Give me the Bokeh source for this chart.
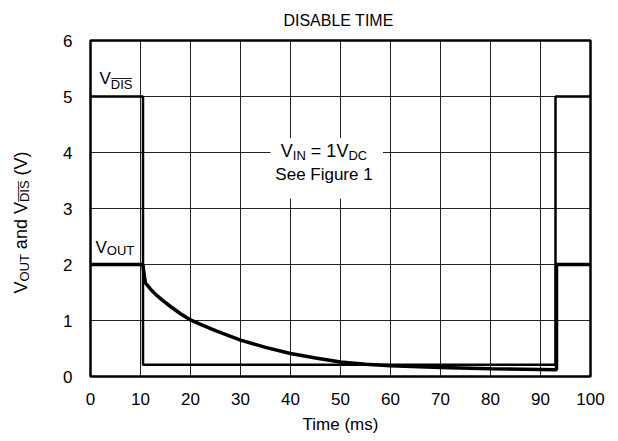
import math
from bokeh.plotting import figure
from bokeh.layouts import row, column
from bokeh.models import Label, BoxAnnotation, FixedTicker
from bokeh.embed import file_html
from bokeh.resources import INLINE

# ---- data ----
t_dis = [0, 10.5, 10.5, 93, 93, 100]
v_dis = [5, 5, 0.21, 0.21, 5, 5]

t_out = [0, 10.5, 10.6, 10.8, 11, 12, 13, 14, 15, 16, 18, 20, 22, 25, 30, 35, 40, 45, 50, 55, 60, 70, 80, 90, 93.2, 93.2, 100]
v_out = [2, 2, 1.9, 1.78, 1.67, 1.56, 1.47, 1.39, 1.32, 1.25, 1.12, 1.01, 0.93, 0.82, 0.65, 0.52, 0.41, 0.33, 0.26, 0.22, 0.19, 0.16, 0.14, 0.125, 0.12, 2, 2]

x_ticks = [0, 10, 20, 30, 40, 50, 60, 70, 80, 90, 100]
y_ticks = [0, 1, 2, 3, 4, 5, 6]

title_text = "DISABLE TIME"
x_label = "Time (ms)"

FONT = "Liberation Sans"
MAIN = 17
SUB = 13
H = 441
LEFT_W = 40
TOP_H = 30
BASE_FIX = 7  # lift texts so their baselines sit where the reference has them

# Arial-compatible advance widths (em)
W = {"V": .667, "O": .778, "U": .722, "T": .611, " ": .278, "a": .556, "n": .556,
     "d": .556, "D": .722, "I": .278, "S": .667, "(": .333, ")": .333, "N": .722,
     "=": .584, "1": .556, "C": .722, "\u0305": 0}


def tw(s, size):
    return sum(W.get(c, .556) for c in s) * size


def make_label(fig, x, y, text, size, xo=0, yo=0, angle=0, align="left"):
    fig.add_layout(Label(x=x, y=y, text=text, x_offset=xo, y_offset=yo, angle=angle,
                         text_font=FONT, text_font_size=f"{size}px", text_color="black",
                         text_align=align, text_baseline="alphabetic"))


def layout_run(pieces, center=True):
    """Return (text, size, shift, offset) with spaces turned into offsets."""
    total = sum(tw(s, sz) for s, sz, _ in pieces)
    off = -total / 2 if center else 0
    out = []
    for s, sz, sh in pieces:
        lead = len(s) - len(s.lstrip(" "))
        core = s.strip(" ")
        trail = len(s) - len(s.rstrip(" ")) if core else 0
        off += lead * W[" "] * sz
        out.append((core, sz, sh, off))
        off += tw(core, sz) + trail * W[" "] * sz
    return out


def strip(w, h, **kw):
    f = figure(frame_width=w, frame_height=h, x_range=(0, w), y_range=(0, h),
               x_axis_type=None, y_axis_type=None, output_backend="svg", toolbar_location=None, **kw)
    f.outline_line_color = None
    f.xgrid.visible = False
    f.ygrid.visible = False
    f.background_fill_color = "white"
    f.border_fill_color = "white"
    return f


# ---------------- main plot ----------------
p = figure(frame_width=500, frame_height=336, min_border_left=50, min_border_right=28,
           min_border_top=10, min_border_bottom=65, x_range=(0, 100), y_range=(0, 6),
           output_backend="svg", toolbar_location=None)

p.outline_line_color = "black"
p.outline_line_width = 2.5
p.background_fill_color = "white"
p.border_fill_color = "white"

for ax in (p.xaxis[0], p.yaxis[0]):
    ax.axis_line_color = None
    ax.major_tick_line_color = None
    ax.minor_tick_line_color = None
    ax.major_label_text_font = FONT
    ax.major_label_text_font_size = f"{MAIN}px"
    ax.major_label_text_color = "black"
p.xaxis.ticker = FixedTicker(ticks=x_ticks)
p.yaxis.ticker = FixedTicker(ticks=y_ticks)
p.xaxis.major_label_standoff = 10
p.yaxis.major_label_standoff = 12
p.xaxis.axis_label = x_label
p.xaxis.axis_label_text_font = FONT
p.xaxis.axis_label_text_font_size = f"{MAIN}px"
p.xaxis.axis_label_text_font_style = "normal"
p.xaxis.axis_label_text_color = "black"
p.xaxis.axis_label_standoff = 7

p.xgrid.ticker = FixedTicker(ticks=x_ticks)
p.ygrid.ticker = FixedTicker(ticks=y_ticks)
for g in (p.xgrid[0], p.ygrid[0]):
    g.grid_line_color = "#222222"
    g.grid_line_width = 1

# white box behind the annotation
p.add_layout(BoxAnnotation(left=36.0, right=58.5, bottom=3.18, top=4.26,
                           fill_color="white", fill_alpha=1, line_color=None))

p.line(t_dis, v_dis, line_color="black", line_width=2.5)
p.line(t_out, v_out, line_color="black", line_width=3.5)

# in-plot labels
for core, sz, sh, off in layout_run([("V", MAIN, 0), ("D\u0305I\u0305S\u0305", SUB, -6.5)], center=False):
    make_label(p, 1.8, 5.2, core, sz, xo=off, yo=sh + BASE_FIX)
for core, sz, sh, off in layout_run([("V", MAIN, 0), ("OUT", SUB, -3.5)], center=False):
    make_label(p, 1.0, 2.18, core, sz, xo=off, yo=sh + BASE_FIX)

for core, sz, sh, off in layout_run([("V", 18, 0), ("IN", SUB, -4), (" = 1V", 18, 0), ("DC", SUB, -4)]):
    make_label(p, 46.7, 3.90, core, sz, xo=off, yo=sh + BASE_FIX)
make_label(p, 46.7, 3.505, "See Figure 1", MAIN, yo=BASE_FIX - 1, align="center")

# ---------------- top strip holding the title (frame aligned with the plot's frame) ----------------
tf = strip(500, TOP_H, min_border_left=50, min_border_right=28, min_border_top=0, min_border_bottom=0)
make_label(tf, 248, TOP_H - 26.5, title_text, 16, yo=BASE_FIX, align="center")

# ---------------- left strip holding the rotated y-axis label ----------------
lf = strip(LEFT_W, H, min_border=0)
YM = 18
ypieces = [("V", YM, 0), ("OUT", SUB, 4), (" and V", YM, 0), ("D\u0305I\u0305S\u0305", SUB, 4), (" (V)", YM, 0)]
for core, sz, sh, off in layout_run(ypieces):
    make_label(lf, 20, H - 222, core, sz, xo=sh, yo=off, angle=math.pi / 2)

layout = row(lf, column(tf, p))
open("out.html", "w").write(file_html(layout, INLINE))
